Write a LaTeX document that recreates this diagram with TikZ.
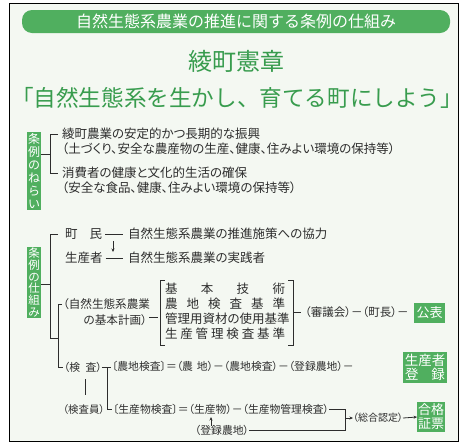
\documentclass[tikz,border=0pt]{standalone}
\usepackage{fontspec}
\newfontfamily\jp[RawFeature=+palt]{Noto Sans CJK JP}
\newfontfamily\jpf{Noto Sans CJK JP}
\usetikzlibrary{arrows.meta}
\definecolor{gr}{RGB}{80,175,95}
\definecolor{grt}{RGB}{56,156,78}
\definecolor{bg}{RGB}{244,248,242}
\definecolor{ink}{RGB}{45,45,45}
\tikzset{
  t/.style={inner sep=0pt, outer sep=0pt, anchor=west, text=ink, font=\jp\fontsize{12.5}{14}\selectfont},
  ts/.style={t, font=\jp\fontsize{10.8}{12}\selectfont},
  ln/.style={draw=ink, line width=0.8pt},
  gbox/.style={fill=gr, text=white, inner sep=0pt, align=center, outer sep=0pt},
  arr/.style={ln, -{Stealth[length=3.5pt,width=3pt]}},
}
\begin{document}
\begin{tikzpicture}[x=1pt,y=-1pt]
\useasboundingbox (0,0) rectangle (462,445);
\fill[white] (0,0) rectangle (462,445);
\fill[bg] (9.5,3.5) rectangle (458.5,441.5);
\draw[line width=1.6pt, black] (9.5,3.5) rectangle (458.5,441.5);
% banner
\node[gbox, rounded corners=10pt, minimum width=428pt, minimum height=23pt,
      font=\jpf\fontsize{16}{18}\selectfont] (banner) at (236,21.5) {自然生態系農業の推進に関する条例の仕組み};
\node[inner sep=0pt, text=grt, font=\jpf\fontsize{24}{26}\selectfont] (kensho) at (236,61) {綾町憲章};
\node[inner sep=0pt, text=grt, font=\jpf\fontsize{22.6}{24}\selectfont] (motto) at (237,98) {「自然生態系を生かし、育てる町にしよう」};
% section 1
\node[gbox, minimum width=14pt, minimum height=78pt, font=\jpf\fontsize{12}{13}\selectfont] (nerai) at (34,171) {条\\例\\の\\ね\\ら\\い};
\node[t] (a1) at (62,134) {綾町農業の安定的かつ長期的な振興};
\node[t] (a2) at (62,149) {（土づくり、安全な農産物の生産、健康、住みよい環境の保持等）};
\node[t] (b1) at (62,173) {消費者の健康と文化的生活の確保};
\node[t] (b2) at (62,188) {（安全な食品、健康、住みよい環境の保持等）};
\coordinate (n1) at (50,154);
\draw[ln] (nerai.east |- n1) -- (n1);
\draw[ln] ([xshift=-4pt]a1.west) -- (50,134) -- (50,173) -- ([xshift=-4pt]b1.west);
% section 2
\node[gbox, minimum width=14pt, minimum height=71pt, font=\jpf\fontsize{11.5}{11.8}\selectfont] (shikumi) at (34,282.5) {条\\例\\の\\仕\\組\\み};
\node[t] (chomin) at (65,234) {\hbox to 37pt{町\hfill 民}};
\node[t] (kyoryoku) at (128,234) {自然生態系農業の推進施策への協力};
\node[t] (seisan) at (65,258) {生産者};
\node[t] (jissen) at (128,258) {自然生態系農業の実践者};
\draw[ln] ([xshift=3pt]chomin.east) -- ([xshift=-5pt]kyoryoku.west);
\draw[ln] ([xshift=3pt]seisan.east) -- ([xshift=-5pt]jissen.west);
\draw[arr] (113,241) -- (113,252);
\coordinate (n2) at (50,284);
\draw[ln] (shikumi.east |- n2) -- (n2);
\draw[ln] (58,234) -- (50,234) -- (50,338) -- (58,338);
% basic plan
\node[t, font=\jp\fontsize{11.6}{13}\selectfont] (keikaku1) at (63,304) {（自然生態系農業};
\node[t, anchor=east, font=\jp\fontsize{11.6}{13}\selectfont] (keikaku2) at (147,320) {の基本計画）};
\draw[ln] (62,304) -- (58,304) -- (58,367) -- (63,367);
\draw[ln] (149,317) -- (158,317);
\draw[ln] (165,280) -- (160,280) -- (160,345) -- (165,345);
\node[t] (k1) at (165,289) {\hbox to 120pt{基\hfill 本\hfill 技\hfill 術}};
\node[t] (k2) at (165,304) {\hbox to 120pt{農\hfill 地\hfill 検\hfill 査\hfill 基\hfill 準}};
\node[t] (k3) at (165,319) {\hbox to 120pt{管理用資材の使用基準}};
\node[t] (k4) at (165,334) {\hbox to 120pt{生\hfill 産\hfill 管\hfill 理\hfill 検\hfill 査\hfill 基\hfill 準}};
\draw[ln] (288,280) -- (293,280) -- (293,345) -- (288,345);
\draw[ln] (293,312) -- (301,312);
\node[t, font=\jp\fontsize{11.5}{13}\selectfont] (shingi) at (305,312) {（審議会）－（町長）－};
\node[gbox, minimum width=31pt, minimum height=20pt, font=\jpf\fontsize{13}{14}\selectfont] (koho) at (429.5,313) {公表};
% inspection
\node[ts] (kensa) at (64,367) {（\hbox to 27pt{検\hfill 査}）};
\node[ts, font=\jp\fontsize{10.4}{12}\selectfont] (kensain) at (63,410) {（検査員）};
\draw[ln] (85,379) -- (85,395);
\draw[ln] (kensa.east) -- (111,367);
\draw[ln] (107,367) -- (107,409) -- (112,409);
\node[ts] (row1) at (112,366) {〔農地検査〕＝（農\hspace{4pt}地）－（農地検査）－（登録農地）－};
\node[gbox, minimum width=44pt, minimum height=31pt, font=\jpf\fontsize{13.5}{14.5}\selectfont] (toroku) at (425,367.5) {生産者\\\hbox to 40pt{登\hfill 録}};
\node[ts] (row2) at (113,409) {〔生産物検査〕＝（生産物）－（生産物管理検査）};
\node[ts] (noti) at (195,430) {（登録農地）};
\draw[arr] (211,426) -- (211,417);
\draw[ln] (row2.east) -- (345,409) coordinate (r2) -- (r2 |- noti) -- (noti.east);
\node[ts, font=\jp\fontsize{10}{12}\selectfont] (sogo) at (353,418) {（総合認定）};
\node[gbox, minimum width=28pt, minimum height=30pt, font=\jpf\fontsize{13}{14}\selectfont] (gokaku) at (431,417) {合格\\証票};
\draw[arr] (r2 |- sogo) -- (sogo.west);
\draw[arr] (sogo.east) -- (gokaku.west);
\end{tikzpicture}
\end{document}
